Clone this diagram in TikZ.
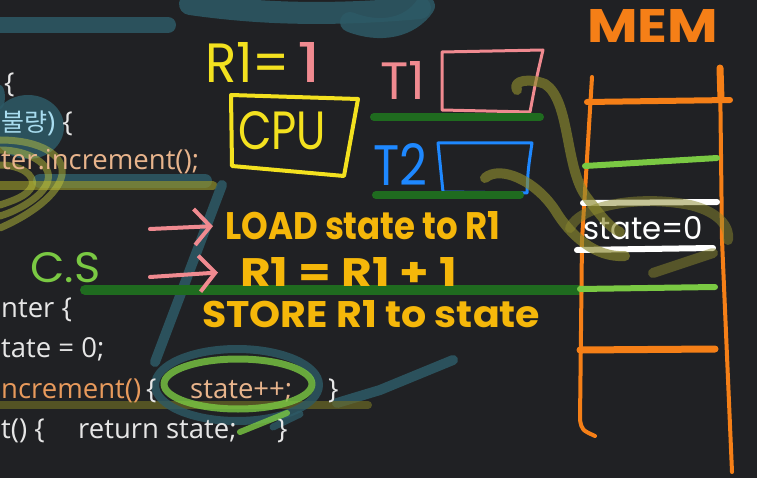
\documentclass[tikz,border=0pt]{standalone}
\usepackage{fontspec}
\usetikzlibrary{arrows.meta,calc}
\newfontfamily\codefont{Open Sans}
\newfontfamily\krfont{Noto Sans CJK KR}
\newfontfamily\handfont{Poppins}
\definecolor{bgc}{HTML}{202124}
\definecolor{tealc}{HTML}{2D5A66}
\definecolor{olivec}{HTML}{8C8A2E}
\definecolor{swirlc}{HTML}{C8CC3C}
\definecolor{codewhite}{HTML}{E6E6E6}
\definecolor{codeblue}{HTML}{A8DCEF}
\definecolor{codeorange}{HTML}{E89A5C}
\definecolor{codepeach}{HTML}{E8B48C}
\definecolor{penyellow}{HTML}{F3E11F}
\definecolor{pengold}{HTML}{F5B70A}
\definecolor{penpink}{HTML}{F08A90}
\definecolor{penblue}{HTML}{1E88FF}
\definecolor{pendkgreen}{HTML}{1F6B1F}
\definecolor{pengreen}{HTML}{7AC943}
\definecolor{penorange}{HTML}{F57F17}
\newcommand{\hw}[3]{\resizebox{#1pt}{#2pt}{#3}}
\begin{document}
\begin{tikzpicture}[x=1pt,y=-1pt,
  hl/.style={line cap=round,line join=round},
  tealhl/.style={hl,draw=tealc,line width=12pt,opacity=0.85},
  olivehl/.style={hl,draw=olivec,line width=10pt,opacity=0.65},
  swirl/.style={hl,draw=swirlc,line width=7pt,opacity=0.45},
  pen/.style={hl,line width=4pt},
  code/.style={anchor=base west,inner sep=0pt,font=\codefont\fontsize{27.5}{30}\selectfont},
  hand/.style={anchor=base west,inner sep=0pt,font=\handfont\bfseries},
  thinhand/.style={anchor=base west,inner sep=0pt,font=\handfont},
  pinkarrow/.style={pen,draw=penpink,-{Straight Barb[length=16pt,width=36pt,line width=4pt]}}]
\fill[bgc] (0,0) rectangle (757,478);
\useasboundingbox (0,0) rectangle (757,478);

% ---- highlight strokes behind text
\draw[tealhl,line width=16pt] (0,25) -- (168,25);
\draw[tealhl,line width=22pt] (190,4) .. controls (260,14) and (330,16) .. (420,8);
\draw[tealhl,line width=20pt] (350,22) .. controls (380,34) and (410,28) .. (425,6);
\fill[tealc,opacity=0.85] (28,127) ellipse [x radius=36, y radius=32];
\fill[tealc,opacity=0.85] (0,97) ellipse [x radius=5, y radius=12];
\draw[tealhl,line width=14pt] (40,181) -- (205,181);
\draw[olivehl,line width=9pt,draw=olivec!90!yellow] (0,186) -- (213,186);
\draw[swirl] (0,140) .. controls (40,140) and (65,155) .. (62,175) .. controls (58,195) and (30,215) .. (0,228);
\draw[swirl] (0,150) .. controls (30,150) and (52,165) .. (48,180) .. controls (45,195) and (20,210) .. (0,216);
\draw[swirl] (0,165) .. controls (20,165) and (36,175) .. (32,186) .. controls (28,196) and (12,201) .. (0,205);
\draw[tealhl,line width=10pt] (222,185) -- (155,362);
\draw[tealhl,line width=10pt] (337,403) -- (380,390) -- (453,360);
\draw[olivehl,line width=8pt,draw=olivec!80!black] (0,405) -- (368,405);
\draw[tealhl,line width=8pt,opacity=0.8] (237,385) ellipse [x radius=82, y radius=36];
\draw[tealhl,line width=7pt,opacity=0.8] (273,427) -- (300,414);

% ---- code text
\node[code,text=codewhite] (c1) at (4,93) {\{};
\node[code,text=codeblue] (c2) at (1,132) {{\krfont\fontsize{25}{28}\selectfont 불량}) \textcolor{codewhite}{\{}};
\node[code,text=codepeach] (c3) at (1,170) {ter.increment();};
\node[code,text=codewhite] (c4) at (1,317) {nter \{};
\node[code,text=codewhite] (c5) at (1,357) {tate = 0;};
\node[code,text=codeorange] (c6) at (1,398) {ncrement()};
\node[code,text=codewhite] (c7) at (146,398) {\{};
\node[code,text=codepeach] (c8) at (190,398) {state++;};
\node[code,text=codewhite] (c9) at (328,398) {\}};
\node[code,text=codewhite] (c10) at (1,438) {t() \{};
\node[code,text=codewhite] (c11) at (78,438) {return state;};
\node[code,text=codewhite] (c12) at (277,438) {\}};

\draw[hl,draw=pengreen,line width=7pt,opacity=0.8] (238,384) ellipse [x radius=74, y radius=25];
\draw[hl,draw=pengreen,line width=6pt,opacity=0.8] (240,432) -- (287,413);

% ---- CPU side
\node[thinhand,text=penyellow] (r1) at (205,83) {\hw{85}{40}{R1=}};
\node[thinhand,text=penpink] (r1v) at (297,83) {\hw{24}{40}{1}};
\draw[pen,draw=penyellow] (231,95) -- (358,99) -- (344,176) -- (232,166) -- cycle;
\node[thinhand,text=penyellow] (cpu) at (238,150) {\hw{88}{38}{CPU}};

\node[thinhand,text=penpink] (t1) at (380,100) {\hw{45}{38}{T1}};
\draw[pen,line width=3pt,draw=penpink] (442,52) -- (543,50) .. controls (536,80) .. (530,112) -- (442,110) -- cycle;
\draw[hl,draw=pendkgreen,line width=8pt] (374,117) -- (540,117);

\node[thinhand,text=penblue] (t2) at (373,186) {\hw{54}{42}{T2}};
\draw[pen,line width=3pt,draw=penblue] (438,143) -- (532,143) .. controls (528,170) .. (527,193) -- (443,192) -- cycle;
\draw[hl,draw=pendkgreen,line width=8pt] (376,195) -- (520,195);

% ---- instructions
\draw[hl,draw=pendkgreen,line width=10pt] (85,290) -- (580,290);
\node[thinhand,text=pengreen] (cs) at (30,283) {\hw{70}{30}{C.S}};
\node[hand,text=pengold] (load) at (225,240) {\hw{275}{28}{LOAD state to R1}};
\node[hand,text=pengold] (inc) at (240,287) {\hw{217}{29}{R1 = R1 + 1}};
\node[hand,text=pengold] (store) at (202,327) {\hw{338}{27}{STORE R1 to state}};
\coordinate (a1) at (150,229);
\coordinate (a2) at (150,277);
\draw[pinkarrow] (a1) -- ([xshift=-12pt]load.west);
\draw[pinkarrow] (a2) -- ([xshift=-22pt]inc.west);

% ---- memory
\node[hand,text=penorange] (mem) at (587,43) {\hw{131}{33}{MEM}};
\draw[pen,draw=penorange] (592,77) -- (582,240) -- (580,420) .. controls (582,430) .. (595,436);
\draw[pen,draw=penorange] (720,70) -- (722,240) -- (732,472);
\draw[hl,draw=penorange,line width=7pt] (720,68) -- (721,100);
\draw[hl,draw=penorange,line width=6pt] (587,102) -- (730,100);
\draw[hl,draw=pengreen,line width=6pt] (585,166) -- (717,158);
\draw[hl,draw=white,line width=6pt] (583,203) -- (717,202);
\node[thinhand,text=white] (state) at (583,240) {\hw{120}{23}{state=0}};
\draw[hl,draw=white,line width=6pt] (577,250) -- (713,248);
\draw[hl,draw=pengreen,line width=6pt] (580,289) -- (715,287);
\draw[hl,draw=penorange,line width=7pt] (580,350) -- (715,349);

% ---- links from registers to memory
\draw[olivehl] (517,90) .. controls (512,80) and (530,78) .. (545,84) .. controls (570,100) and (565,165) .. (585,195) .. controls (600,215) and (610,228) .. (620,232);
\draw[olivehl] (485,178) .. controls (500,165) and (535,180) .. (555,210) .. controls (570,235) and (595,258) .. (625,256);
\draw[olivehl,opacity=0.5] (570,228) .. controls (580,205) and (640,195) .. (690,205) .. controls (720,212) and (730,228) .. (728,240);
\draw[olivehl,opacity=0.5] (653,273) -- (713,253);
\end{tikzpicture}
\end{document}
